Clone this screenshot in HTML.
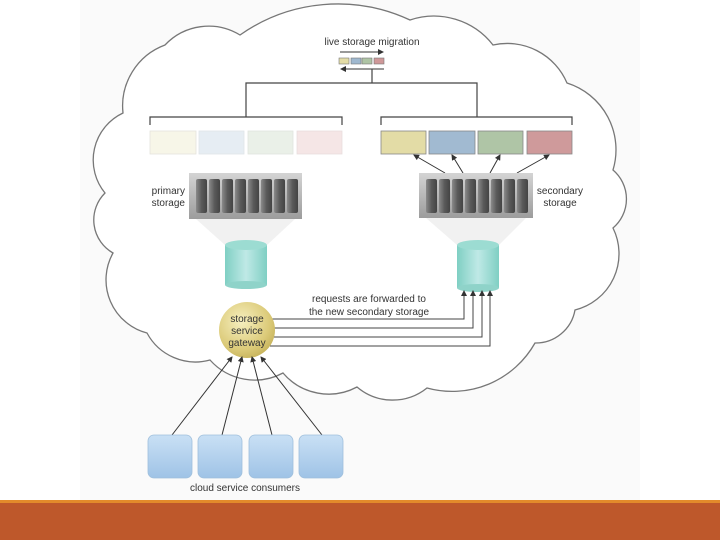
<!DOCTYPE html>
<html><head><meta charset="utf-8"><style>
html,body{margin:0;padding:0;background:#fff;}
svg{display:block;}
text{font-family:"Liberation Sans",Arial,sans-serif;font-size:10px;fill:#333;}
</style></head><body>
<svg width="720" height="540" viewBox="0 0 720 540" xmlns="http://www.w3.org/2000/svg">
<defs>
<linearGradient id="dev" x1="0" y1="0" x2="0" y2="1"><stop offset="0" stop-color="#d4d4d4"/><stop offset="1" stop-color="#9c9c9c"/></linearGradient>
<linearGradient id="slot" x1="0" y1="0" x2="1" y2="0"><stop offset="0" stop-color="#8a8a8a"/><stop offset="0.5" stop-color="#5a5a5a"/><stop offset="1" stop-color="#444"/></linearGradient>
<linearGradient id="cyl" x1="0" y1="0" x2="1" y2="0"><stop offset="0" stop-color="#7fcfc3"/><stop offset="0.5" stop-color="#bfe9e6"/><stop offset="1" stop-color="#7fcfc3"/></linearGradient>
<radialGradient id="gw" cx="0.4" cy="0.35" r="0.7"><stop offset="0" stop-color="#f6efbf"/><stop offset="0.7" stop-color="#dccb7a"/><stop offset="1" stop-color="#c6b25a"/></radialGradient>
<linearGradient id="cons" x1="0" y1="0" x2="0" y2="1"><stop offset="0" stop-color="#c9e0f5"/><stop offset="1" stop-color="#9fc3e6"/></linearGradient>
<marker id="ah" markerWidth="6" markerHeight="6" refX="5" refY="3" orient="auto" markerUnits="userSpaceOnUse"><path d="M0,0 L6,3 L0,6 z" fill="#333"/></marker>
</defs>
<rect x="80" y="0" width="560" height="500" fill="#fafafa"/>
<!-- cloud -->
<path d="M123,113 A65,65 0 0 1 165,45 A60,60 0 0 1 240,35 A170,170 0 0 1 410,20 A75,75 0 0 1 493,45 A65,65 0 0 1 567,83 A70,70 0 0 1 613,170 A38,38 0 0 1 613,228 A58,58 0 0 1 575,310 A40,40 0 0 1 535,343 A95,95 0 0 1 427,388 A55,55 0 0 1 357,387 A60,60 0 0 1 283,373 A60,60 0 0 1 210,360 A55,55 0 0 1 147,333 A55,55 0 0 1 113,253 A38,38 0 0 1 105,193 A52,52 0 0 1 123,113 Z" fill="#fff" stroke="#777" stroke-width="1.3"/>
<!-- migration -->
<text x="372" y="45" text-anchor="middle">live storage migration</text>
<line x1="340" y1="52" x2="383" y2="52" stroke="#333" stroke-width="1" marker-end="url(#ah)"/>
<rect x="339" y="58" width="10" height="6" fill="#e3dca6" stroke="#777" stroke-width="0.6"/>
<rect x="351" y="58" width="10" height="6" fill="#9fb8cf" stroke="#777" stroke-width="0.6"/>
<rect x="362" y="58" width="10" height="6" fill="#aec4a5" stroke="#777" stroke-width="0.6"/>
<rect x="374" y="58" width="10" height="6" fill="#cf9899" stroke="#777" stroke-width="0.6"/>
<line x1="384" y1="69" x2="341" y2="69" stroke="#333" stroke-width="1" marker-end="url(#ah)"/>
<path d="M372,69 V83 M246,117 V83 H477 V117 M150,125 V117 H342 V125 M381,125 V117 H572 V125" fill="none" stroke="#444" stroke-width="1.2"/>
<!-- faint boxes -->
<rect x="150" y="131" width="46" height="23" fill="#f7f6e8" stroke="#e4e4dc" stroke-width="0.8"/>
<rect x="199" y="131" width="45" height="23" fill="#e6edf3" stroke="#e0e4e8" stroke-width="0.8"/>
<rect x="248" y="131" width="45" height="23" fill="#eaf0e8" stroke="#e0e4de" stroke-width="0.8"/>
<rect x="297" y="131" width="45" height="23" fill="#f5e6e6" stroke="#e8dede" stroke-width="0.8"/>
<!-- colored boxes -->
<rect x="381" y="131" width="45" height="23" fill="#e3dca6" stroke="#888" stroke-width="0.8"/>
<rect x="429" y="131" width="46" height="23" fill="#a1bad1" stroke="#888" stroke-width="0.8"/>
<rect x="478" y="131" width="45" height="23" fill="#afc5a6" stroke="#888" stroke-width="0.8"/>
<rect x="527" y="131" width="45" height="23" fill="#cf9a9b" stroke="#888" stroke-width="0.8"/>
<g stroke="#333" stroke-width="1" marker-end="url(#ah)">
<line x1="445" y1="173" x2="414" y2="155"/>
<line x1="463" y1="173" x2="452" y2="155"/>
<line x1="490" y1="173" x2="500" y2="155"/>
<line x1="517" y1="173" x2="549" y2="155"/>
</g>
<!-- primary device -->
<polygon points="196,219 295,219 267,245 225,245" fill="#eeeeee" opacity="0.8"/>
<rect x="189" y="173" width="113" height="46" fill="url(#dev)"/>
<g fill="url(#slot)">
<rect x="196" y="179" width="11" height="34" rx="2"/><rect x="209" y="179" width="11" height="34" rx="2"/><rect x="222" y="179" width="11" height="34" rx="2"/><rect x="235" y="179" width="11" height="34" rx="2"/><rect x="248" y="179" width="11" height="34" rx="2"/><rect x="261" y="179" width="11" height="34" rx="2"/><rect x="274" y="179" width="11" height="34" rx="2"/><rect x="287" y="179" width="11" height="34" rx="2"/>
</g>
<text x="185" y="194" text-anchor="end">primary</text>
<text x="185" y="206" text-anchor="end">storage</text>
<rect x="225" y="245" width="42" height="40" fill="url(#cyl)"/>
<ellipse cx="246" cy="285" rx="21" ry="4" fill="#8fd3c9"/>
<ellipse cx="246" cy="245" rx="21" ry="5" fill="#9cdcd2"/>
<!-- secondary device -->
<polygon points="426,218 526,218 499,245 457,245" fill="#eeeeee" opacity="0.8"/>
<rect x="419" y="173" width="114" height="45" fill="url(#dev)"/>
<g fill="url(#slot)">
<rect x="426" y="179" width="11" height="34" rx="2"/><rect x="439" y="179" width="11" height="34" rx="2"/><rect x="452" y="179" width="11" height="34" rx="2"/><rect x="465" y="179" width="11" height="34" rx="2"/><rect x="478" y="179" width="11" height="34" rx="2"/><rect x="491" y="179" width="11" height="34" rx="2"/><rect x="504" y="179" width="11" height="34" rx="2"/><rect x="517" y="179" width="11" height="34" rx="2"/>
</g>
<text x="560" y="194" text-anchor="middle">secondary</text>
<text x="560" y="206" text-anchor="middle">storage</text>
<rect x="457" y="245" width="42" height="43" fill="url(#cyl)"/>
<ellipse cx="478" cy="288" rx="21" ry="4" fill="#8fd3c9"/>
<ellipse cx="478" cy="245" rx="21" ry="5" fill="#9cdcd2"/>
<!-- gateway lines -->
<g fill="none" stroke="#444" stroke-width="1" marker-end="url(#ah)">
<path d="M270,319 H464 V291"/>
<path d="M274,328 H473 V291"/>
<path d="M274,337 H482 V291"/>
<path d="M270,346 H490 V291"/>
</g>
<text x="369" y="302" text-anchor="middle">requests are forwarded to</text>
<text x="369" y="315" text-anchor="middle">the new secondary storage</text>
<circle cx="247" cy="330" r="28" fill="url(#gw)"/>
<text x="247" y="322" text-anchor="middle">storage</text>
<text x="247" y="334" text-anchor="middle">service</text>
<text x="247" y="346" text-anchor="middle">gateway</text>
<!-- consumers -->
<g stroke="#333" stroke-width="1" marker-end="url(#ah)">
<line x1="172" y1="435" x2="232" y2="357"/>
<line x1="222" y1="435" x2="242" y2="357"/>
<line x1="272" y1="435" x2="252" y2="357"/>
<line x1="322" y1="435" x2="261" y2="357"/>
</g>
<g fill="url(#cons)" stroke="#9fbfdc" stroke-width="0.8">
<rect x="148" y="435" width="44" height="43" rx="6"/>
<rect x="198" y="435" width="44" height="43" rx="6"/>
<rect x="249" y="435" width="44" height="43" rx="6"/>
<rect x="299" y="435" width="44" height="43" rx="6"/>
</g>
<text x="245" y="491" text-anchor="middle">cloud service consumers</text>
<!-- bottom bar -->
<rect x="0" y="500" width="720" height="3" fill="#e38a2b"/>
<rect x="0" y="503" width="720" height="37" fill="#be582b"/>
</svg>
</body></html>
